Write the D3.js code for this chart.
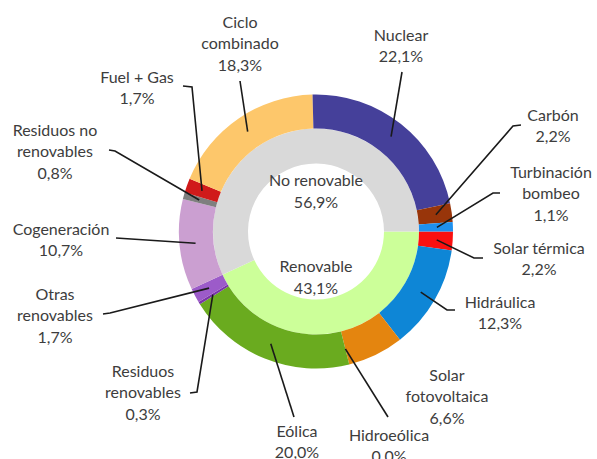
<!DOCTYPE html>
<html>
<head>
<meta charset="utf-8">
<script src="https://cdn.jsdelivr.net/npm/d3@7"></script>
<style>
  body { margin: 0; background: #fff; }
  text { font-family: Lato, "Open Sans", sans-serif; fill: #3d3d3d; }
</style>
</head>
<body>
<div id="donut"></div>
<script>
// Datos: estructura de generación (%), empezando en las 3 en punto
const fuentes = ['Solar térmica', 'Hidráulica', 'Solar fotovoltaica', 'Hidroeólica', 'Eólica',
  'Residuos renovables', 'Otras renovables', 'Cogeneración', 'Residuos no renovables',
  'Fuel + Gas', 'Ciclo combinado', 'Nuclear', 'Carbón', 'Turbinación bombeo'];
const porcentajes = [2.2, 12.3, 6.6, 0.0, 20.0, 0.3, 1.7, 10.7, 0.8, 1.7, 18.3, 22.1, 2.2, 1.1];
const colores = ['#fa1010', '#0e86d6', '#e4850f', '#4f81bd', '#6aab1f', '#7a35a8', '#9c5bc9',
  '#cb9fd1', '#7f7f7f', '#d01a1a', '#fdc76b', '#45409a', '#98350a', '#1f90ee'];

const grupos = ['Renovable', 'No renovable'];
const grupoPct = [43.1, 56.9];
const grupoColores = ['#ccff99', '#d9d9d9'];

// Etiquetas partidas en líneas
const etiquetas = [['Solar térmica'], ['Hidráulica'], ['Solar', 'fotovoltaica'], ['Hidroeólica'],
  ['Eólica'], ['Residuos', 'renovables'], ['Otras', 'renovables'], ['Cogeneración'],
  ['Residuos no', 'renovables'], ['Fuel + Gas'], ['Ciclo', 'combinado'], ['Nuclear'],
  ['Carbón'], ['Turbinación', 'bombeo']];

// Posición de cada etiqueta (centro x, y de la primera línea) y codos de la línea guía
const layout = [
  { x: 539, y: 248, guia: [[474, 258], [483, 258]] },
  { x: 500, y: 302, guia: [[447, 310], [455, 310]] },
  { x: 447, y: 375, guia: null },
  { x: 389, y: 435, guia: [[388, 417]] },
  { x: 297, y: 431, guia: [[294, 417]] },
  { x: 143, y: 371, guia: [[197, 392], [190, 393]] },
  { x: 55, y: 294, guia: [[110, 313], [103, 314]] },
  { x: 61, y: 229, guia: [[116, 238]] },
  { x: 55, y: 130, guia: [[115, 151], [109, 150]] },
  { x: 137, y: 77, guia: [[192, 87], [183, 86]] },
  { x: 240, y: 22, guia: [[240, 81]] },
  { x: 401, y: 35, guia: [[402, 72]] },
  { x: 553, y: 115, guia: [[513, 126], [521, 125]] },
  { x: 551, y: 172, guia: [[493, 193], [500, 193]] }
];

const width = 597;
const height = 459;
const cx = 316, cy = 231.5;
const rOut = 137, rMid = 103, rIn = 68;
const lineH = 21.5;

const fmt = d3.formatLocale({ decimal: ',', thousands: '.', grouping: [3], currency: ['', '€'] }).format('.1f');

const svg = d3.select('#donut')
  .append('svg')
  .attr('width', width)
  .attr('height', height);

const g = svg.append('g')
  .attr('transform', `translate(${cx},${cy})`);

const pie = d3.pie()
  .sort(null)
  .value(d => d)
  .startAngle(Math.PI / 2)
  .endAngle(Math.PI / 2 + 2 * Math.PI);

const arcOut = d3.arc().innerRadius(rMid).outerRadius(rOut);
const arcIn = d3.arc().innerRadius(rIn).outerRadius(rMid);

const arcsOut = pie(porcentajes);
const arcsIn = pie(grupoPct);

// Anillo interior
g.selectAll('path.grupo')
  .data(arcsIn)
  .enter()
  .append('path')
  .attr('class', 'grupo')
  .attr('d', arcIn)
  .attr('fill', (d, i) => grupoColores[i]);

// Anillo exterior
g.selectAll('path.fuente')
  .data(arcsOut)
  .enter()
  .append('path')
  .attr('class', 'fuente')
  .attr('d', arcOut)
  .attr('fill', (d, i) => colores[i]);

// Textos del anillo interior
const centroTxt = [{ i: 1, y: -51 }, { i: 0, y: 35 }];
centroTxt.forEach(c => {
  const t = g.append('text')
    .attr('text-anchor', 'middle')
    .attr('font-size', '16px');
  t.append('tspan').attr('x', 0).attr('y', c.y).attr('dy', '0.35em').text(grupos[c.i]);
  t.append('tspan').attr('x', 0).attr('y', c.y + lineH + 0.5).attr('dy', '0.35em').text(fmt(grupoPct[c.i]) + '%');
});

// Líneas guía: parten del centro angular de cada sector
const rGuia = 121;
arcsOut.forEach((d, i) => {
  const L = layout[i];
  if (!L.guia) return;
  const a = (d.startAngle + d.endAngle) / 2;
  const p0 = [cx + rGuia * Math.sin(a), cy - rGuia * Math.cos(a)];
  svg.append('path')
    .attr('d', d3.line()([p0, ...L.guia]))
    .attr('fill', 'none')
    .attr('stroke', '#1a1a1a')
    .attr('stroke-width', 1.6);
});

// Etiquetas exteriores
arcsOut.forEach((d, i) => {
  const L = layout[i];
  const lineas = etiquetas[i].concat([fmt(porcentajes[i]) + '%']);
  const t = svg.append('text')
    .attr('text-anchor', 'middle')
    .attr('font-size', '16px');
  lineas.forEach((s, k) => {
    t.append('tspan')
      .attr('x', L.x)
      .attr('y', L.y + k * lineH)
      .attr('dy', '0.35em')
      .text(s);
  });
});
</script>
</body>
</html>
